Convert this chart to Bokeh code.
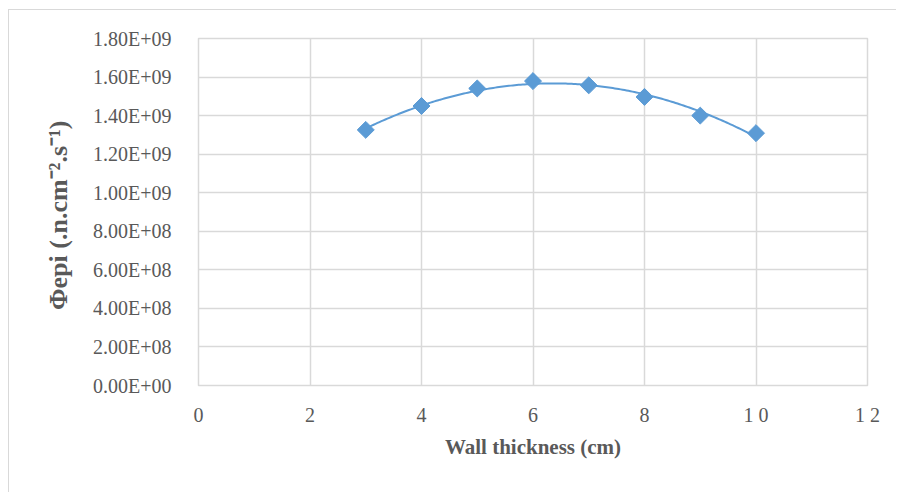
import numpy as np
from bokeh.plotting import figure
from bokeh.models import FixedTicker, Range1d
from bokeh.embed import file_html
from bokeh.resources import INLINE

# Data
wall_thickness = [3, 4, 5, 6, 7, 8, 9, 10]
phi_epi = [1.326e9, 1.450e9, 1.541e9, 1.579e9, 1.557e9, 1.497e9, 1.400e9, 1.309e9]

x_ticks = [0, 2, 4, 6, 8, 10, 12]
x_tick_labels = ["0", "2", "4", "6", "8", "1 0", "1 2"]
y_ticks = [0, 2e8, 4e8, 6e8, 8e8, 1e9, 1.2e9, 1.4e9, 1.6e9, 1.8e9]
y_tick_labels = ["0.00E+00", "2.00E+08", "4.00E+08", "6.00E+08", "8.00E+08",
                 "1.00E+09", "1.20E+09", "1.40E+09", "1.60E+09", "1.80E+09"]

BLUE = "#5b9bd5"
GRID = "#d9d9d9"
TEXT = "#595959"
FONT = "Liberation Serif"

p = figure(width=888, height=483, output_backend="svg", toolbar_location=None,
           x_range=Range1d(0, 12), y_range=Range1d(0, 1.8e9),
           min_border_left=189, min_border_right=30, min_border_top=28, min_border_bottom=108)
p.styles = {"margin-left": "8px", "margin-top": "9px",
            "border-left": "1px solid #d9d9d9", "border-top": "1px solid #d9d9d9"}
p.outline_line_color = GRID
p.outline_line_width = 1.5

# polynomial trendline through data
coef = np.polyfit(wall_thickness, phi_epi, 2)
xs = np.linspace(wall_thickness[0], wall_thickness[-1], 200)
p.line(xs, np.polyval(coef, xs), line_color=BLUE, line_width=2)
p.scatter(wall_thickness, phi_epi, marker="square", size=12, angle=np.pi / 4,
          fill_color=BLUE, line_color=BLUE)

p.xaxis.ticker = FixedTicker(ticks=x_ticks)
p.xaxis.major_label_overrides = {t: l for t, l in zip(x_ticks, x_tick_labels)}
p.yaxis.ticker = FixedTicker(ticks=y_ticks)
p.yaxis.major_label_overrides = {t: l for t, l in zip(y_ticks, y_tick_labels)}

for ax in (p.xaxis[0], p.yaxis[0]):
    ax.axis_line_color = None
    ax.major_tick_line_color = None
    ax.minor_tick_line_color = None
    ax.major_label_text_font = FONT
    ax.major_label_text_font_size = "20px"
    ax.major_label_text_color = TEXT
    ax.axis_label_text_font = FONT
    ax.axis_label_text_font_style = "bold"
    ax.axis_label_text_color = TEXT

p.xaxis.major_label_standoff = 12
p.yaxis.major_label_standoff = 21
p.xaxis.axis_label = "Wall thickness (cm)"
p.xaxis.axis_label_text_font_size = "21px"
p.xaxis.axis_label_standoff = 6
p.yaxis.axis_label = "Φepi  (.n.cm⁻².s⁻¹)"
p.yaxis.axis_label_text_font_size = "26px"
p.yaxis.axis_label_standoff = 17

p.xgrid.ticker = FixedTicker(ticks=x_ticks)
p.ygrid.ticker = FixedTicker(ticks=y_ticks)
p.xgrid.grid_line_color = GRID
p.ygrid.grid_line_color = GRID
p.xgrid.grid_line_width = 1.5
p.ygrid.grid_line_width = 1.5

open("out.html", "w").write(file_html(p, INLINE))
